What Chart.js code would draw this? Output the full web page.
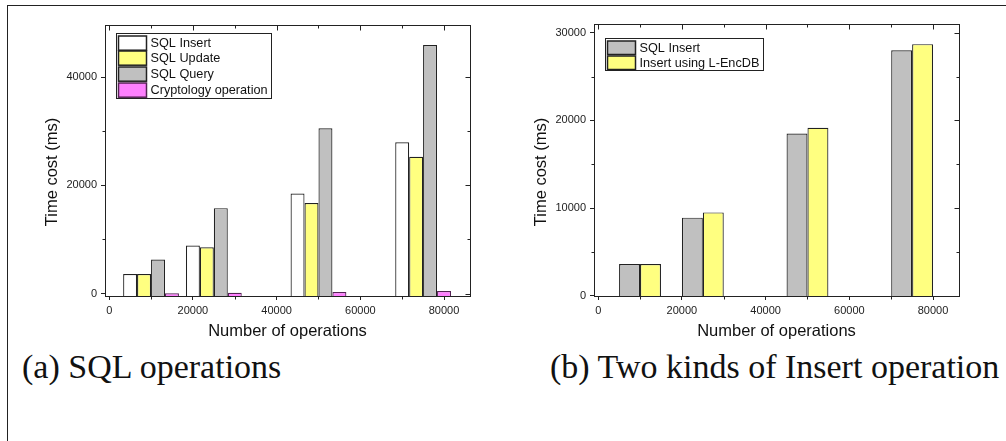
<!DOCTYPE html>
<html>
<head>
<meta charset="utf-8">
<script src="https://cdn.jsdelivr.net/npm/chart.js@4"></script>
<style>
  body { margin: 0; background: #fff; width: 1006px; height: 441px; overflow: hidden; position: relative; }
  #frame { position: absolute; left: 7px; top: 5px; width: 1100px; height: 600px; border-top: 1px solid #222; border-left: 1px solid #222; }
  canvas { position: absolute; top: 0; }
  #chartA { left: 0; }
  #chartB { left: 500px; }
  .caption { position: absolute; font-family: "Liberation Serif", serif; font-size: 34px; line-height: 34px; color: #111; white-space: nowrap; }
</style>
</head>
<body>
<div id="frame"></div>
<canvas id="chartA" width="500" height="345"></canvas>
<canvas id="chartB" width="506" height="345"></canvas>
<div class="caption" style="left:22px; top:350px">(a) SQL operations</div>
<div class="caption" style="left:550px; top:350px">(b) Two kinds of Insert operation</div>

<script>
// data (time cost in ms)
const operations = [10000, 25000, 50000, 75000];
const sqlInsert = [3600, 8900, 18500, 28000];
const sqlUpdate = [3600, 8550, 16750, 25300];
const sqlQuery = [6300, 15800, 30600, 46000];
const cryptoOp = [50, 150, 280, 460];
const encdbInsert = [3600, 9500, 19150, 28700];

// tick labels
const xTicks = [0, 20000, 40000, 60000, 80000];
const yTicksA = [0, 20000, 40000];
const yTicksB = [0, 10000, 20000, 30000];

const xMin = -1000, xMax = 86200;

const sansFont = '"Liberation Sans", Arial, sans-serif';

// box around the plot, minor / inner ticks, boxed legend and y title
const framePlugin = {
    id: 'frame',
    afterDraw (chart, args, opts) {
        const ctx = chart.ctx;
        const a = chart.chartArea;
        const xs = chart.scales.x;
        const ys = chart.scales.y;
        ctx.save();
        ctx.strokeStyle = '#222';
        ctx.lineWidth = 1;
        const l = Math.round(a.left) + 0.5, t = Math.round(a.top) + 0.5;
        const r = Math.round(a.right) + 0.5, b = Math.round(a.bottom) + 0.5;
        ctx.strokeRect(l, t, r - l, b - t);

        ctx.beginPath();
        for (let v = 0; v <= xs.max; v += opts.xMinor) {
            const px = Math.round(xs.getPixelForValue(v)) + 0.5;
            const major = v % opts.xMajor === 0;
            ctx.moveTo(px, t);
            ctx.lineTo(px, t + (major ? 5 : 3));
            if (!major) {
                ctx.moveTo(px, b);
                ctx.lineTo(px, b + 3);
            }
        }
        for (let v = 0; v <= ys.max; v += opts.yMinor) {
            const py = Math.round(ys.getPixelForValue(v)) + 0.5;
            const major = v % opts.yMajor === 0;
            ctx.moveTo(r, py);
            ctx.lineTo(r - (major ? 5 : 3), py);
            if (!major) {
                ctx.moveTo(l, py);
                ctx.lineTo(l - 3, py);
            }
        }
        ctx.stroke();

        // legend
        ctx.font = opts.legendFont + 'px ' + sansFont;
        ctx.textBaseline = 'middle';
        ctx.textAlign = 'left';
        const sets = chart.data.datasets;
        let textW = 0;
        sets.forEach(ds => { textW = Math.max(textW, ctx.measureText(ds.label).width); });
        const lx = Math.round(a.left + opts.legendDx) + 0.5;
        const ly = Math.round(a.top + opts.legendDy) + 0.5;
        const boxW = Math.round(2 + opts.swatchW + 4 + textW + 4);
        const boxH = Math.round(2 + sets.length * opts.rowH);
        ctx.fillStyle = '#fff';
        ctx.fillRect(lx, ly, boxW, boxH);
        ctx.strokeStyle = '#222';
        ctx.strokeRect(lx, ly, boxW, boxH);
        sets.forEach((ds, i) => {
            const sy = Math.round(ly + 2 + i * opts.rowH);
            ctx.fillStyle = ds.backgroundColor;
            ctx.fillRect(lx + 2, sy, opts.swatchW, opts.rowH - 1.5);
            ctx.strokeStyle = ds.borderColor;
            ctx.lineWidth = 1.5;
            ctx.strokeRect(lx + 2, sy, opts.swatchW, opts.rowH - 1.5);
            ctx.fillStyle = '#111';
            ctx.fillText(ds.label, lx + 2 + opts.swatchW + 4, sy + (opts.rowH - 1.5) / 2 + 0.5);
        });

        // y axis title
        ctx.translate(opts.yTitleX, opts.yTitleY);
        ctx.rotate(-Math.PI / 2);
        ctx.font = '16.5px ' + sansFont;
        ctx.textAlign = 'center';
        ctx.fillStyle = '#111';
        ctx.fillText(opts.yTitle, 0, 0);
        ctx.restore();
    }
};

function makeChart (canvasId, datasets, setup) {
    const ctx = document.querySelector(canvasId).getContext('2d');
    datasets.forEach(ds => {
        ds.borderColor = ds.borderColor || '#222';
        ds.borderWidth = 1.2;
        ds.categoryPercentage = setup.groupWidth;
        ds.barPercentage = 1;
        ds.base = setup.yMin;
    });
    return new Chart(ctx, {
        type: 'bar',
        data: { labels: operations, datasets: datasets },
        options: {
            responsive: false,
            animation: false,
            layout: { padding: { left: 0, top: setup.padTop, right: setup.padRight, bottom: 0 } },
            scales: {
                x: {
                    type: 'linear',
                    min: xMin,
                    max: xMax,
                    offset: false,
                    grid: { drawOnChartArea: false, drawTicks: true, tickLength: 4, color: '#222', offset: false },
                    border: { display: true, color: '#222', width: 1 },
                    ticks: {
                        autoSkip: false,
                        maxRotation: 0,
                        padding: 4,
                        color: '#222',
                        font: { family: sansFont, size: 11 },
                        callback: v => String(v)
                    },
                    afterBuildTicks (scale) { scale.ticks = xTicks.map(v => ({ value: v })); },
                    title: {
                        display: true,
                        text: 'Number of operations',
                        color: '#111',
                        font: { family: sansFont, size: 16.5 },
                        padding: { top: 0, bottom: 4 }
                    },
                    afterFit (scale) { scale.height = 49; }
                },
                y: {
                    min: setup.yMin,
                    max: setup.yMax,
                    grid: { drawOnChartArea: false, drawTicks: true, tickLength: 4, color: '#222' },
                    border: { display: true, color: '#222', width: 1 },
                    ticks: {
                        autoSkip: false,
                        padding: 4,
                        color: '#222',
                        font: { family: sansFont, size: 11 },
                        callback: v => String(v)
                    },
                    afterBuildTicks (scale) { scale.ticks = setup.yTicks.map(v => ({ value: v })); },
                    afterFit (scale) { scale.width = setup.yWidth; }
                }
            },
            plugins: {
                legend: { display: false },
                tooltip: { enabled: false },
                frame: {
                    xMinor: 10000, xMajor: 20000,
                    yMinor: setup.yTicks[1] / 2, yMajor: setup.yTicks[1],
                    legendDx: 11, legendDy: setup.legendDy,
                    legendFont: 12.7, swatchW: 28, rowH: setup.rowH,
                    yTitle: 'Time cost (ms)', yTitleX: setup.yTitleX, yTitleY: 172
                }
            }
        },
        plugins: [framePlugin]
    });
}

makeChart('#chartA', [
    { label: 'SQL Insert', data: sqlInsert, backgroundColor: '#ffffff' },
    { label: 'SQL Update', data: sqlUpdate, backgroundColor: '#ffff80' },
    { label: 'SQL Query', data: sqlQuery, backgroundColor: '#c0c0c0' },
    { label: 'Cryptology operation', data: cryptoOp, backgroundColor: '#ff80ff', borderColor: '#552255' }
], { yMin: -460, yMax: 49700, yTicks: yTicksA, groupWidth: 13333 / 15000,
     padTop: 25, padRight: 30, yWidth: 105, legendDy: 8, rowH: 15.7, yTitleX: 52 });

makeChart('#chartB', [
    { label: 'SQL Insert', data: sqlInsert, backgroundColor: '#c0c0c0' },
    { label: 'Insert using L-EncDB', data: encdbInsert, backgroundColor: '#ffff80' }
], { yMin: -40, yMax: 31000, yTicks: yTicksB, groupWidth: 10000 / 15000,
     padTop: 24, padRight: 47, yWidth: 94, legendDy: 14, rowH: 15, yTitleX: 41 });
</script>
</body>
</html>
